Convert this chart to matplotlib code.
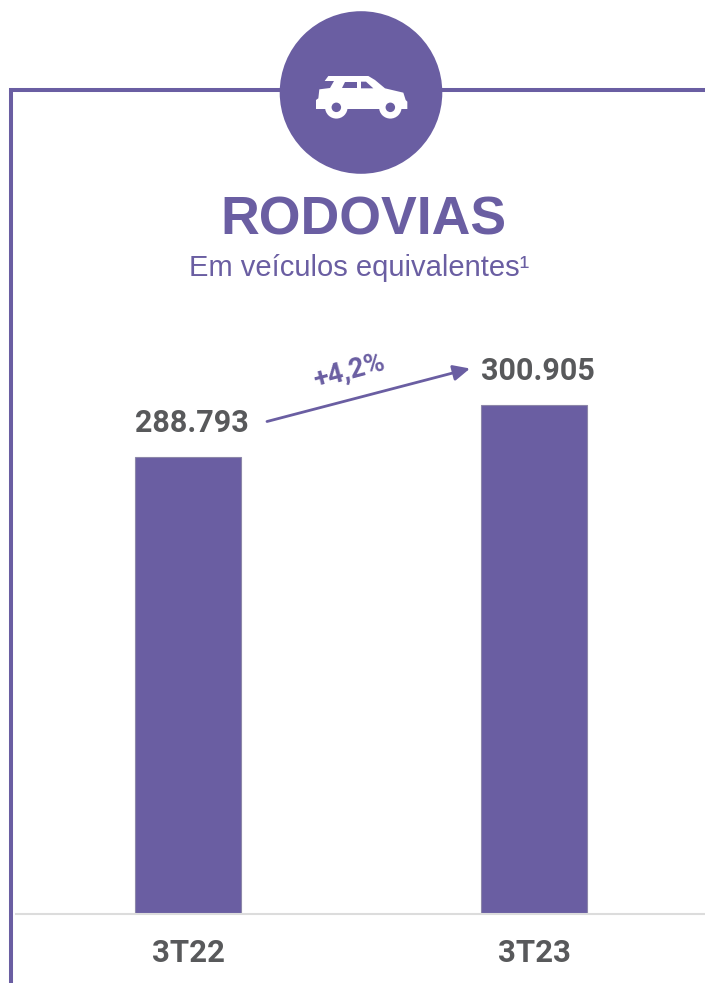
"""Rodovias bar chart, 3T22 vs 3T23"""

from matplotlib import pyplot as plt
from matplotlib import patches

##############
### inputs ###
##############

categories = ['3T22', '3T23']
values = [288793, 300905]
value_labels = ['288.793', '300.905']
growth_label = '+4,2%'
title = 'RODOVIAS'
subtitle = 'Em veículos equivalentes¹'

purple = '#6a5ea2'
grey = '#58595b'
W, H = 705, 983

# the axis does not start at zero in the original
y_base = 182350
y_top = 182350 + 914 * 232.9

# car outline and windows, in px of the 3x zoom of the icon
car = [(205, 228), (325, 228), (345, 240), (375, 265), (430, 278), (437, 300),
       (442, 305), (442, 327), (168, 327), (168, 300), (175, 295), (178, 268),
       (210, 264), (222, 243), (194, 243)]
win1 = [(255, 245), (290, 245), (290, 265), (247, 265)]
win2 = [(303, 245), (318, 245), (340, 265), (303, 265)]
wheels = [(229, 322), (391, 322)]

############
### MAIN ###
############

f = plt.figure(figsize=(W / 100, H / 100), dpi=100)

# chart axes, from the bottom line up to the top of the figure
ax = f.add_axes([16 / W, (H - 914) / H, (W - 16) / W, 914 / H])
ax.bar(range(2), values, width=0.306, color=purple, edgecolor='#8d87a9', lw=0.8,
       zorder=2)
ax.set_xlim((16 - 188) / 346, (705 - 188) / 346)
ax.set_ylim(y_base, y_top)
for s in ['top', 'left', 'right']:
    ax.spines[s].set_visible(False)
ax.spines['bottom'].set_color('#dcdcdc')
ax.spines['bottom'].set_linewidth(1.5)
ax.set_yticks([])
ax.set_xticks(range(2))
ax.set_xticklabels(categories, family='Roboto', weight='bold', fontsize=22.4,
                   color=grey)
ax.tick_params(axis='x', length=0, pad=17)
for i in range(2):
    ax.annotate(value_labels[i], (i, values[i]), xytext=(2.5, 14),
                textcoords='offset points', ha='center', va='bottom',
                family='Roboto', weight='bold', fontsize=22, color=grey)

# overlay in pixels of the picture, for the frame, icon and titles
ov = f.add_axes([0, 0, 1, 1], zorder=3)
ov.set_xlim(0, W)
ov.set_ylim(H, 0)
ov.axis('off')
ov.patch.set_alpha(0)

ov.plot([11, 11, W], [H, 90, 90], color=purple, lw=2.9, solid_joinstyle='miter',
        zorder=1)
ov.add_patch(patches.Ellipse((361, 92.5), 162.6, 162.6, fc=purple, lw=0, zorder=2))


def zoomed(pts):
    # zoom px back to px of the picture
    return [(260 + x / 3, y / 3) for x, y in pts]


ov.add_patch(patches.Polygon(zoomed(car), fc='white', lw=0, zorder=3))
for w in [win1, win2]:
    ov.add_patch(patches.Polygon(zoomed(w), fc=purple, lw=0, zorder=4))
for c in zoomed(wheels):
    ov.add_patch(patches.Ellipse(c, 22.5, 22.5, fc='white', lw=0, zorder=4))
    ov.add_patch(patches.Ellipse(c, 9.5, 9.5, fc=purple, lw=0, zorder=5))

ov.text(363, 215, title, ha='center', va='center_baseline', family='Liberation Sans',
        weight='bold', fontsize=38.6, color=purple)
ov.text(359, 268, subtitle, ha='center', va='center', family='Liberation Sans',
        fontsize=21, color=purple)

ov.annotate('', xy=(470, 368.5), xytext=(267, 421.5),
            arrowprops=dict(arrowstyle='-|>,head_length=1.0,head_width=0.47',
                            color=purple, lw=2, shrinkA=0, shrinkB=0))
ov.text(349, 371, growth_label, ha='center', va='center', rotation=15,
        family='Roboto', weight='bold', fontsize=19.5, color=purple)

f.savefig('out.png', dpi=100)
